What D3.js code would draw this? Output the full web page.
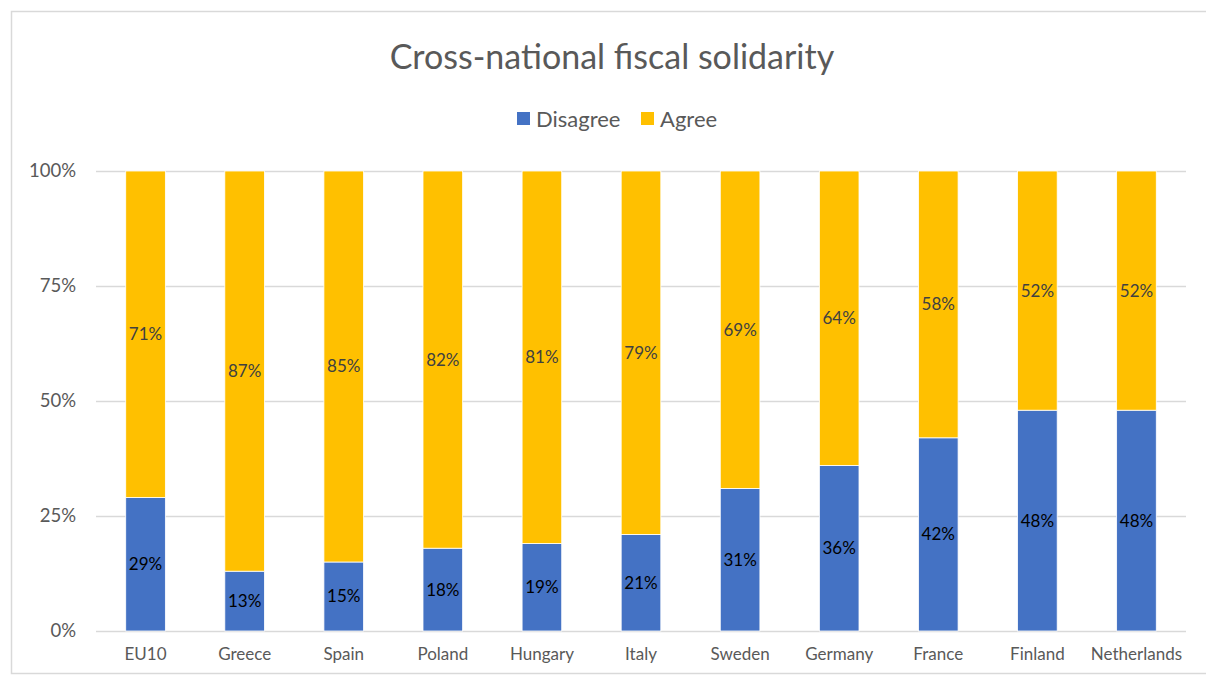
<!DOCTYPE html>
<html>
<head>
<meta charset="utf-8">
<script src="https://cdn.jsdelivr.net/npm/d3@7"></script>
<style>
  html, body { margin: 0; padding: 0; background: #fff; }
  svg { display: block; }
  text { font-family: Lato, "Open Sans", sans-serif; }
</style>
</head>
<body>
<svg id="chart" width="1206" height="675"></svg>
<script>
// Share of respondents per country
const countries = ["EU10", "Greece", "Spain", "Poland", "Hungary", "Italy", "Sweden", "Germany", "France", "Finland", "Netherlands"];
const disagree = [29, 13, 15, 18, 19, 21, 31, 36, 42, 48, 48];
const agree    = [71, 87, 85, 82, 81, 79, 69, 64, 58, 52, 52];
const seriesNames = ["Disagree", "Agree"];
const tickValues = [0, 25, 50, 75, 100];
const tickLabels = ["0%", "25%", "50%", "75%", "100%"];

const colors = { Disagree: "#4472C4", Agree: "#FFC000" };

const svg = d3.select("#chart");
const W = 1206, H = 675;

// chart frame
svg.append("rect")
  .attr("x", 11.5).attr("y", 11.5)
  .attr("width", W + 20).attr("height", H - 13)
  .attr("fill", "#fff").attr("stroke", "#d9d9d9").attr("stroke-width", 1.5);

const plot = { left: 96, right: 1186, top: 171, bottom: 631 };

const x = d3.scaleBand().domain(countries)
  .range([plot.left, plot.right]).paddingInner(0.6).paddingOuter(0.3);
const y = d3.scaleLinear().domain([0, 100]).range([plot.bottom, plot.top]);

// gridlines
svg.append("g").selectAll("line").data(tickValues).join("line")
  .attr("x1", plot.left).attr("x2", plot.right)
  .attr("y1", d => y(d) + 0.5).attr("y2", d => y(d) + 0.5)
  .attr("stroke", "#d9d9d9").attr("stroke-width", 1.3);

// y axis labels
const yAxis = d3.axisLeft(y).tickValues(tickValues)
  .tickFormat((d, i) => tickLabels[i]).tickSize(0).tickPadding(0);
const yg = svg.append("g").attr("transform", `translate(${plot.left - 20},0)`).call(yAxis);
yg.select(".domain").remove();
yg.selectAll("text").attr("font-size", 18.5).attr("fill", "#595959")
  .attr("font-family", "Lato, 'Open Sans', sans-serif");

// x axis labels
const xAxis = d3.axisBottom(x).tickSize(0).tickPadding(0);
const xg = svg.append("g").attr("transform", `translate(0,${plot.bottom + 17})`).call(xAxis);
xg.select(".domain").remove();
xg.selectAll("text").attr("font-size", 17).attr("fill", "#595959")
  .attr("font-family", "Lato, 'Open Sans', sans-serif");

// stacked data
const rows = countries.map((c, i) => ({ country: c, Disagree: disagree[i], Agree: agree[i] }));
const stack = d3.stack().keys(seriesNames)(rows);

const layers = svg.append("g").selectAll("g").data(stack).join("g")
  .attr("fill", d => colors[d.key]);

layers.selectAll("rect").data(d => d).join("rect")
  .attr("x", d => x(d.data.country))
  .attr("width", x.bandwidth())
  .attr("y", d => y(d[1]))
  .attr("height", d => y(d[0]) - y(d[1]))
  .attr("stroke", "#fff").attr("stroke-width", 0.8);

// value labels
const labelColors = { Disagree: "#000000", Agree: "#404040" };
stack.forEach(layer => {
  svg.append("g").selectAll("text").data(layer).join("text")
    .attr("x", d => x(d.data.country) + x.bandwidth() / 2)
    .attr("y", d => (y(d[0]) + y(d[1])) / 2)
    .attr("dy", "0.35em")
    .attr("text-anchor", "middle")
    .attr("font-size", 17)
    .attr("fill", labelColors[layer.key])
    .text(d => (d[1] - d[0]) + "%");
});

// title
svg.append("text")
  .attr("x", 612).attr("y", 69)
  .attr("text-anchor", "middle")
  .attr("font-size", 34).attr("fill", "#595959")
  .text("Cross-national fiscal solidarity");

// legend
const legendItems = [
  { name: "Disagree", x: 517 },
  { name: "Agree", x: 641 }
];
const lg = svg.append("g");
legendItems.forEach(it => {
  lg.append("rect").attr("x", it.x).attr("y", 112).attr("width", 13).attr("height", 13)
    .attr("fill", colors[it.name]);
  lg.append("text").attr("x", it.x + 19).attr("y", 119).attr("dy", "0.35em")
    .attr("font-size", 22).attr("fill", "#595959").text(it.name);
});
</script>
</body>
</html>
